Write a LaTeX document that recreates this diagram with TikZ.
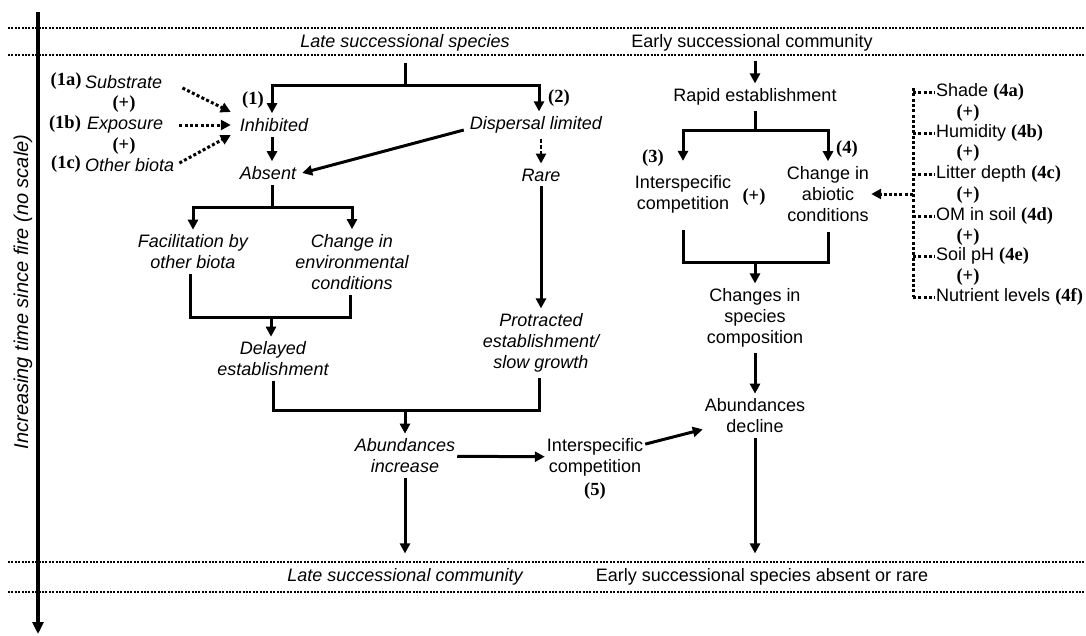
\documentclass[tikz,border=0pt]{standalone}
\usepackage{fontspec}
\setmainfont{Liberation Sans}
\newfontfamily\lser{Liberation Serif}
\usetikzlibrary{arrows.meta}
\newcommand\labtxt[1]{{\lser\bfseries\fontsize{18.5}{20}\selectfont #1}}
\begin{document}
\begin{tikzpicture}[x=1pt,y=-1pt,
 tnode/.style={font=\fontsize{18}{21}\selectfont, align=center, inner xsep=2pt, inner ysep=5pt},
 ital/.style={tnode, font=\fontsize{18}{21}\selectfont\itshape},
 lab/.style={inner sep=1pt, font=\fontsize{18.5}{20}\selectfont\lser\bfseries},
 arr/.style={line width=3pt, -{Triangle[length=10pt,width=10pt]}},
 ln/.style={line width=3pt},
 darr/.style={line width=3pt, dash pattern=on 3pt off 2.3pt, -{Triangle[length=10pt,width=10pt]}},
 dln/.style={line width=3pt, dash pattern=on 3pt off 2.3pt},
 dasharr/.style={line width=2.8pt, dash pattern=on 4pt off 2pt, -{Triangle[length=10pt,width=10pt]}},
 sepline/.style={line width=2pt, dash pattern=on 2pt off 1.4pt},
]
\useasboundingbox (0,0) rectangle (1086,635);
% separators
\draw[sepline] (8,28) -- (1086,28);
\draw[sepline] (8,55) -- (1086,55);
\draw[sepline] (8,562) -- (1086,562);
\draw[sepline] (8,592) -- (1086,592);
% axis
\draw[line width=4pt, -{Triangle[length=12pt,width=11pt]}] (38,12) -- (38,634);
\node[ital, font=\fontsize{20}{24}\selectfont\itshape, rotate=90] (axl) at (23,292) {Increasing time since fire (no scale)};
% header / footer
\node[ital] (late) at (405,43) {Late successional species};
\node[tnode] (early) at (752,43) {Early successional community};
\node[ital] (latec) at (405,577) {Late successional community};
\node[tnode] (earlyabs) at (762,577) {Early successional species absent or rare};
% left factors
\node[ital, anchor=west] (substrate) at (83,82) {Substrate};
\node[lab] (l1a) at (66,81) {(1a)};
\node[lab] (pa) at (124,104) {(+)};
\node[ital, anchor=west] (exposure) at (85,125) {Exposure};
\node[lab] (l1b) at (65,124) {(1b)};
\node[lab] (pb) at (124,146) {(+)};
\node[ital, anchor=west] (other) at (83,165) {Other biota};
\node[lab] (l1c) at (66,164) {(1c)};
% left tree
\node[ital] (inhib) at (274,125) {Inhibited};
\node[lab] (l1) at (253,100) {(1)};
\node[ital] (displ) at (536,125) {Dispersal limited};
\node[lab] (l2) at (559,98) {(2)};
\node[ital] (absent) at (268,173) {Absent};
\node[ital] (rare) at (541,175) {Rare};
\node[ital] (facil) at (193,252) {Facilitation by\\other biota};
\node[ital] (chenv) at (352,262) {Change in\\environmental\\conditions};
\node[ital] (delayed) at (273,359) {Delayed\\establishment};
\node[ital] (protr) at (541,343) {Protracted\\establishment/\\slow growth};
\node[ital] (abinc) at (405,456) {Abundances\\increase};
\node[tnode] (comp5) at (595,457) {Interspecific\\competition};
\node[lab] (l5) at (595,491) {(5)};
% right tree
\node[tnode] (rapid) at (755,97) {Rapid establishment};
\node[tnode] (comp3) at (683,194) {Interspecific\\competition};
\node[lab] (l3) at (653,158) {(3)};
\node[lab] (pl3) at (754,197) {(+)};
\node[tnode] (chab) at (828,194) {Change in\\abiotic\\conditions};
\node[lab] (l4) at (847,149) {(4)};
\node[tnode] (chspec) at (755,318) {Changes in\\species\\composition};
\node[tnode] (abdec) at (755,416) {Abundances\\decline};
% right list
\node[tnode, anchor=west, inner xsep=1pt] (f4a) at (935,92) {Shade \labtxt{(4a)}};
\node[tnode, anchor=west, inner xsep=1pt] (f4b) at (935,133) {Humidity \labtxt{(4b)}};
\node[tnode, anchor=west, inner xsep=1pt] (f4c) at (935,174) {Litter depth \labtxt{(4c)}};
\node[tnode, anchor=west, inner xsep=1pt] (f4d) at (935,216) {OM in soil \labtxt{(4d)}};
\node[tnode, anchor=west, inner xsep=1pt] (f4e) at (935,256) {Soil pH \labtxt{(4e)}};
\node[tnode, anchor=west, inner xsep=1pt] (f4f) at (935,297) {Nutrient levels \labtxt{(4f)}};
\node[lab] (q1) at (968,113) {(+)};
\node[lab] (q2) at (968,153) {(+)};
\node[lab] (q3) at (968,195) {(+)};
\node[lab] (q4) at (968,237) {(+)};
\node[lab] (q5) at (968,277) {(+)};
\coordinate (bx) at (913,0);
% ---- connectors, left
\draw[darr] ([xshift=18pt,yshift=-6pt]substrate.east) -- ([xshift=-7pt,yshift=13pt]inhib.west);
\draw[darr] ([xshift=14pt]exposure.east) -- ([xshift=-7pt]inhib.west);
\draw[darr] ([xshift=3pt,yshift=2pt]other.east) -- ([xshift=-7pt,yshift=-10pt]inhib.west);
\coordinate (jL) at (405,85);
\draw[ln] ([yshift=-6pt]late.south) -- (jL);
\draw[arr] (jL) -| ([xshift=-2pt]inhib.north);
\draw[arr] (jL) -| ([xshift=3pt]displ.north);
\draw[arr] ([xshift=-2pt]inhib.south) -- ([xshift=-2pt]inhib.south |- absent.north);
\draw[arr] ([xshift=-4pt,yshift=-5pt]displ.west) -- ([xshift=4pt]absent.east);
\draw[dasharr] ([xshift=5pt]displ.south) -- (rare.north);
\draw[arr] (rare) -- (protr);
\coordinate (jA) at (272,207);
\draw[ln] (absent.south -| jA) -- (jA);
\draw[arr] (jA) -| (facil);
\draw[arr] (jA) -| (chenv);
\coordinate (jF) at (271,317);
\draw[ln] ([xshift=-3pt]facil.south) |- (jF);
\draw[ln] ([xshift=-2pt]chenv.south) |- (jF);
\draw[arr] (jF) -- (jF |- delayed.north);
\coordinate (jD) at (405,410);
\draw[ln] (delayed.south) |- (jD);
\draw[ln] ([xshift=-2pt]protr.south) |- (jD);
\draw[arr] (jD) -- (abinc);
\draw[arr, shorten >=10pt] (abinc) -- (latec);
\draw[arr] (abinc) -- (comp5);
\draw[arr] (comp5) -- (abdec);
% ---- connectors, right
\draw[arr, shorten <=4pt] (early.south -| rapid) -- (rapid);
\coordinate (jR) at (755,130);
\draw[ln] (rapid) -- (jR);
\draw[arr] (jR) -| ([yshift=9pt]comp3.north);
\draw[arr] (jR) -| (chab);
\coordinate (jC) at (755,262);
\draw[ln] ([yshift=-12pt]comp3.south) |- (jC);
\draw[ln] ([yshift=-5pt]chab.south) |- (jC);
\draw[arr] (jC) -- (chspec);
\draw[arr] (chspec) -- (abdec);
\draw[arr, shorten >=10pt] (abdec) -- (abdec |- earlyabs.north);
% bracket
\draw[dln] ([yshift=4pt]f4a.west -| bx) -- (f4f.west -| bx);
\foreach \n in {f4a,f4b,f4c,f4d,f4e,f4f}
  \draw[dln] (\n.west -| bx) -- (\n.west);
\draw[darr] (chab.east -| bx) -- (chab.east);
\end{tikzpicture}
\end{document}
